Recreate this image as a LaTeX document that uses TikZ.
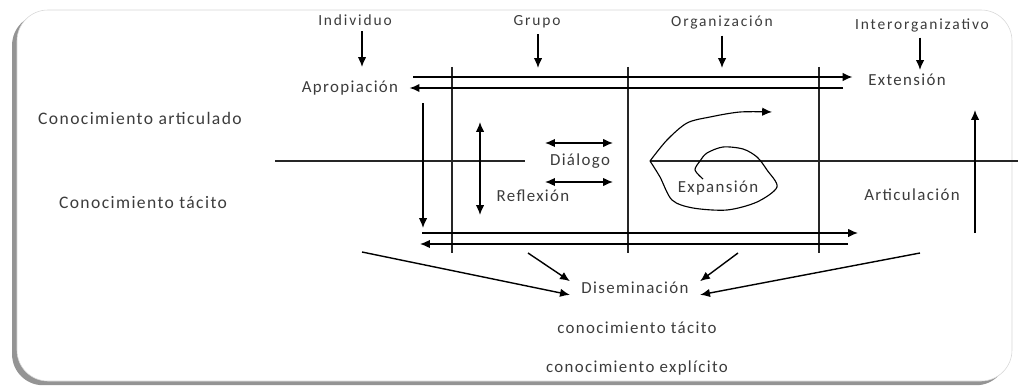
\documentclass[tikz,border=0pt]{standalone}
\usepackage{fontspec}
\setmainfont{Carlito}[LetterSpace=8]
\usetikzlibrary{shadows, arrows.meta, positioning}
\definecolor{my_text}{RGB}{60, 60, 60}
\definecolor{my_frame}{RGB}{215, 215, 215}
\tikzset {
  frame/.style = {draw=my_frame, fill=white, rounded corners=22pt, drop shadow={shadow xshift=-3.5pt, shadow yshift=-3pt, opacity=0.7, fill=black!60}},
  level/.style = {text=my_text, font=\fontsize{11}{13}\selectfont\addfontfeature{LetterSpace=12}, inner sep=1pt},
  stage/.style = {text=my_text, font=\fontsize{12}{14}\selectfont, inner sep=1pt},
  kind/.style = {text=my_text, font=\fontsize{12.5}{15}\selectfont, inner sep=1pt},
  line/.style = {-{Latex[length=7pt, width=6pt]}, line width=1pt, color=black},
  both/.style = {{Latex[length=7pt, width=6pt]}-{Latex[length=7pt, width=6pt]}, line width=1pt, color=black},
  grid/.style = {line width=0.9pt, color=black!85},
}

\begin{document}
\begin{tikzpicture}[x=0.025cm, y=-0.025cm]
    \useasboundingbox (0,0) rectangle (1018,387);
    \path[frame] (17,10) rectangle (1012,381);

    % levels
    \node[level] (indiv) at (355,20) {Individuo};
    \node[level] (grupo) at (537,22) {Grupo};
    \node[level] (org) at (722,23) {Organización};
    \node[level] (inter) at (922,25) {Interorganizativo};
    \coordinate (indiv_to) at (362,67);
    \coordinate (grupo_to) at (538,68);
    \coordinate (org_to) at (722,68);
    \coordinate (inter_to) at (920,70);
    \foreach \n in {indiv, grupo, org, inter}
        \draw[line, shorten <=3pt] (\n_to |- \n.south) -- (\n_to);

    % knowledge types
    \node[kind] (artic) at (140,118) {Conocimiento articulado};
    \node[kind] (tacit) at (143,203) {Conocimiento tácito};

    % stages
    \node[stage] (aprop) at (350,88) {Apropiación};
    \node[stage] (ext) at (907,80) {Extensión};
    \node[stage] (dial) at (580,161) {Diálogo};
    \node[stage] (refl) at (533,196) {Reflexión};
    \node[stage] (expa) at (718,188) {Expansión};
    \node[stage] (artc) at (912,195) {Articulación};
    \node[stage, inner xsep=8pt, inner ysep=0.5pt] (dis) at (635,288) {Diseminación};
    \node[stage] (ctac) at (637,328) {conocimiento tácito};
    \node[stage] (cexp) at (637,368) {conocimiento explícito};

    % grid
    \foreach \x in {452, 628, 819}
        \draw[grid] (\x,67) -- (\x,253);
    \draw[grid] (275,161) -- (525,161);
    \draw[grid] (650,161) -- (1018,161);

    % horizontal flows
    \coordinate (top_l) at (413,77);
    \coordinate (top_r) at (843,88);
    \coordinate (bot_l) at (422,233);
    \coordinate (bot_r) at (848,244);
    \draw[line, shorten >=10pt] (top_l) -- (ext.west |- top_l);
    \draw[line, shorten >=7pt] (top_r) -- (aprop.east |- top_r);
    \draw[line] (bot_l) -- (858,233);
    \draw[line] (bot_r) -- (420,244);

    % vertical flows
    \draw[line] (423,103) -- (423,228);
    \draw[both] (480,122) -- (480,215);
    \draw[both] (545,143) -- (613,143);
    \draw[both] (545,182) -- (613,182);
    \draw[line] (975,233) -- (975,110);

    % spiral
    \draw[line, line width=0.8pt]
        plot[smooth] coordinates {(703,179) (695,170) (700,161) (707,153) (723,147) (743,149) (757,157) (767,170) (777,187) (757,202) (727,210) (693,208) (672,200) (660,177) (650,161)}
        plot[smooth] coordinates {(650,161) (667,140) (687,123) (710,117) (740,112) (772,112)};

    % dissemination
    \coordinate (from_l) at (362,252);
    \coordinate (from_g) at (528,253);
    \coordinate (from_o) at (738,253);
    \coordinate (from_r) at (920,253);
    \draw[line] (from_l) -- (dis.south west);
    \draw[line] (from_g) -- (dis.north west);
    \draw[line] (from_o) -- (dis.north east);
    \draw[line] (from_r) -- (dis.south east);
\end{tikzpicture}
\end{document}
